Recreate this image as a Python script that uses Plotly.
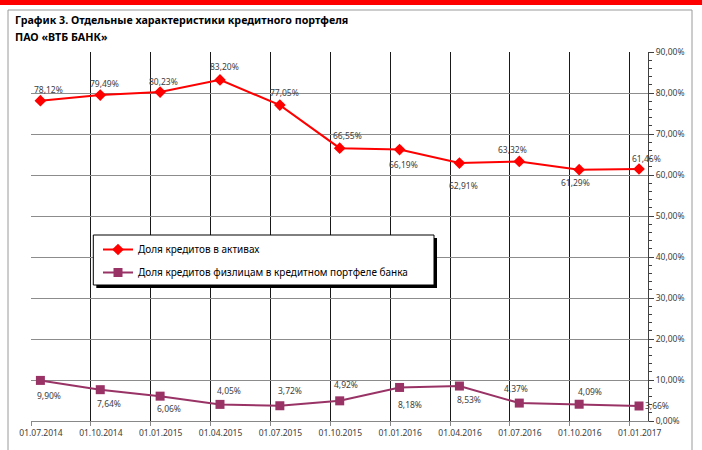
import plotly.graph_objects as go

# ---- data ----
dates = ["01.07.2014", "01.10.2014", "01.01.2015", "01.04.2015", "01.07.2015",
         "01.10.2015", "01.01.2016", "01.04.2016", "01.07.2016", "01.10.2016", "01.01.2017"]
loans_in_assets = [78.12, 79.49, 80.23, 83.20, 77.05, 66.55, 66.19, 62.91, 63.32, 61.29, 61.46]
retail_loans_share = [9.90, 7.64, 6.06, 4.05, 3.72, 4.92, 8.18, 8.53, 4.37, 4.09, 3.66]
name_red = "Доля кредитов в активах"
name_purple = "Доля кредитов физлицам в кредитном портфеле банка"
title_lines = ["График 3. Отдельные характеристики кредитного портфеля", "ПАО «ВТБ БАНК»"]

# ---- label offsets (px) ----
red_shift = [(8, 11), (4, 12), (3, 11), (5, 13), (5, 13), (8, 13), (4, -15), (4, -22), (-7, 12), (-4, -13), (7, 11)]
purple_shift = [(9, -15), (9, -14), (9, -12), (9, 14), (10, 15), (6, 16), (10, -17), (10, -13), (-3, 15), (11, 13), (18, 0)]

W, H = 702, 450
L, R, T, B = 31, 648, 52, 421
RED = "#FF0000"
PURPLE = "#993366"
FONT = "Noto Sans"

def px_x(p):
    return (p - L) / (R - L)

def px_y(p):
    return (B - p) / (B - T)

n = len(dates)
xs = list(range(n))
xmin, xmax = -0.157, n - 1 + 0.15
grid_vals = [i + xmin for i in range(n)]

fig = go.Figure()
fig.add_trace(go.Scatter(x=xs, y=loans_in_assets, mode="lines+markers", name=name_red,
                         line=dict(color=RED, width=2), marker=dict(symbol="diamond", size=9, color=RED),
                         legendgroup="a", hoverinfo="skip"))
fig.add_trace(go.Scatter(x=xs, y=retail_loans_share, mode="lines+markers", name=name_purple,
                         line=dict(color=PURPLE, width=2), marker=dict(symbol="square", size=9, color=PURPLE),
                         legendgroup="b", hoverinfo="skip"))

def fmt(v):
    return f"{v:.2f}".replace(".", ",") + "%"

annotations = []
for i, v in enumerate(loans_in_assets):
    dx, dy = red_shift[i]
    annotations.append(dict(x=i, y=v, text=fmt(v), showarrow=False, xshift=dx, yshift=dy,
                            font=dict(family=FONT, size=8.5, color="#404040")))
for i, v in enumerate(retail_loans_share):
    dx, dy = purple_shift[i]
    annotations.append(dict(x=i, y=v, text=fmt(v), showarrow=False, xshift=dx, yshift=dy,
                            font=dict(family=FONT, size=8.5, color="#404040")))
for k, line in enumerate(title_lines):
    annotations.append(dict(xref="paper", yref="paper", x=px_x(13), y=px_y(20 + 17 * k),
                            xanchor="left", yanchor="middle", showarrow=False,
                            text=f"<b>{line}</b>", font=dict(family=FONT, size=10.7, color="#000000")))

shapes = [
    # outer frame
    dict(type="rect", xref="paper", yref="paper", x0=px_x(8), x1=px_x(692), y0=px_y(10), y1=px_y(470),
         line=dict(color="#9a9a9a", width=1), fillcolor="rgba(0,0,0,0)", layer="below"),
    # red top bar
    dict(type="rect", xref="paper", yref="paper", x0=px_x(-5), x1=px_x(710), y0=px_y(-5), y1=px_y(5),
         line=dict(width=0), fillcolor=RED, layer="above"),
    # legend shadow
    dict(type="rect", xref="paper", yref="paper", x0=px_x(96.3), x1=px_x(437), y0=px_y(238), y1=px_y(288),
         line=dict(width=0), fillcolor="#000000", layer="above"),
    # legend box
    dict(type="rect", xref="paper", yref="paper", x0=px_x(93.3), x1=px_x(434), y0=px_y(235), y1=px_y(285),
         line=dict(color="#000000", width=1), fillcolor="#FFFFFF", layer="above"),
]

fig.update_layout(
    template="none",
    width=W, height=H,
    margin=dict(l=L, r=W - R, t=T, b=H - B, pad=0, autoexpand=False),
    paper_bgcolor="white", plot_bgcolor="white",
    separators=", ",
    font=dict(family=FONT, size=9, color="#404040"),
    showlegend=True,
    legend=dict(x=px_x(98), y=px_y(235), xanchor="left", yanchor="top",
                bgcolor="rgba(0,0,0,0)", borderwidth=0, tracegroupgap=4,
                font=dict(family=FONT, size=10, color="#000000")),
    annotations=annotations,
    shapes=shapes,
    xaxis=dict(range=[xmin, xmax], tickmode="array", tickvals=grid_vals, ticktext=dates,
               ticklabelshift=10, showgrid=True, gridcolor="#1a1a1a", gridwidth=1,
               ticks="outside", ticklen=4, tickcolor="#888888", automargin=False,
               showline=True, linecolor="#888888", linewidth=1, zeroline=False,
               tickfont=dict(family=FONT, size=8.5, color="#404040"), fixedrange=True),
    yaxis=dict(range=[0, 90], dtick=10, tick0=0, side="right", tickformat=".2f", ticksuffix="%",
               showgrid=True, gridcolor="#8c8c8c", gridwidth=1, zeroline=False, automargin=False,
               showline=True, linecolor="#404040", linewidth=1,
               ticks="outside", ticklen=5, tickcolor="#404040",
               minor=dict(dtick=2, ticks="outside", ticklen=3, tickcolor="#404040", showgrid=False),
               tickfont=dict(family=FONT, size=8.5, color="#404040"), fixedrange=True),
)

fig.write_html("out.html", config={"displayModeBar": False},
               post_script="document.body.style.margin='0px';")
